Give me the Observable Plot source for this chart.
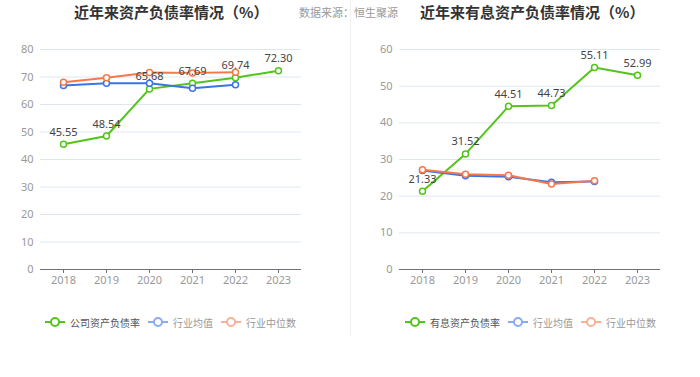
<!DOCTYPE html>
<html>
<head>
<meta charset="utf-8">
<script src="https://cdn.jsdelivr.net/npm/d3@7"></script>
<script src="https://cdn.jsdelivr.net/npm/@observablehq/plot@0.6"></script>
<style>
  html, body { margin: 0; padding: 0; background: #fff; }
  body { width: 700px; height: 377px; position: relative; overflow: hidden;
         font-family: "Noto Sans CJK SC", "Noto Sans", sans-serif; }
  .abs { position: absolute; }
  .title { font-size: 15px; font-weight: bold; color: #333; white-space: nowrap; top: 2px; line-height: 20px; }
  .source { font-size: 11px; color: #999; top: 4px; line-height: 16px; white-space: nowrap; }
  .divider { left: 350px; top: 0; width: 1px; height: 336px; background: #f0f0f0; }
  .legend { top: 312px; height: 20px; display: flex; align-items: center; font-size: 10px; white-space: nowrap; }
  .legend .item { display: flex; align-items: center; margin-right: 8px; }
  .legend svg { margin-right: 5px; }
</style>
</head>
<body>
<div id="root"></div>
<script>
const years = ["2018", "2019", "2020", "2021", "2022", "2023"];
const avgYears = ["2018", "2019", "2020", "2021", "2022"];

const leftTitle = "近年来资产负债率情况（%）";
const rightTitle = "近年来有息资产负债率情况（%）";
const sourceText = "数据来源：恒生聚源";

const leftNames = ["公司资产负债率", "行业均值", "行业中位数"];
const rightNames = ["有息资产负债率", "行业均值", "行业中位数"];

const leftCompany = [45.55, 48.54, 65.68, 67.69, 69.74, 72.30];
const leftAvg = [66.9, 67.7, 67.7, 65.9, 67.2];
const leftMedian = [68.1, 69.7, 71.6, 71.5, 71.7];

const rightCompany = [21.33, 31.52, 44.51, 44.73, 55.11, 52.99];
const rightAvg = [27.0, 25.6, 25.3, 23.8, 24.0];
const rightMedian = [27.2, 26.0, 25.7, 23.3, 24.2];

const leftTicks = [0, 10, 20, 30, 40, 50, 60, 70, 80];
const rightTicks = [0, 10, 20, 30, 40, 50, 60];

const colors = ["#52c41a", "#3a74ea", "#f5784a"];
const legendColors = ["#52c41a", "#8aaaf2", "#f8b296"];

const root = document.body;

function rows(xs, vs) { return vs.map((v, i) => ({year: xs[i], value: v})); }

function makeChart(company, avg, median, ticks, mL, mR) {
  const series = [rows(years, company), rows(avgYears, avg), rows(avgYears, median)];
  const marks = [
    Plot.gridY(ticks, {stroke: "#e0e6f1", strokeOpacity: 1}),
    Plot.axisY(ticks, {tickSize: 0, tickPadding: 7, fill: "#999", fontSize: 11}),
    Plot.ruleY([0], {stroke: "#6e7079"}),
    Plot.axisX({tickSize: 4, stroke: "#6e7079", fill: "#999", fontSize: 11, tickPadding: 3})
  ];
  series.forEach((d, i) => {
    marks.push(Plot.line(d, {x: "year", y: "value", stroke: colors[i], strokeWidth: 2}));
  });
  series.forEach((d, i) => {
    marks.push(Plot.dot(d, {x: "year", y: "value", r: 3, stroke: colors[i], strokeWidth: 1.5, fill: "#fff"}));
  });
  marks.push(Plot.text(series[0], {x: "year", y: "value", text: d => d.value.toFixed(2), dy: -12, fill: "#444", fontSize: 11}));
  return Plot.plot({
    width: 350, height: 300,
    marginTop: 49, marginBottom: 31, marginLeft: mL, marginRight: mR,
    style: {fontFamily: '"Noto Sans", "Noto Sans CJK SC", sans-serif', background: "transparent", overflow: "visible"},
    x: {type: "point", domain: years, padding: 0.5, label: null, axis: null},
    y: {domain: [ticks[0], ticks[ticks.length - 1]], label: null, axis: null},
    marks
  });
}

function place(el, left, top) {
  el.style.position = "absolute";
  el.style.left = left + "px";
  el.style.top = top + "px";
  root.appendChild(el);
}

place(makeChart(leftCompany, leftAvg, leftMedian, leftTicks, 40, 49), 0, 0);
place(makeChart(rightCompany, rightAvg, rightMedian, rightTicks, 49, 40), 350, 0);

function addDiv(cls, text, left) {
  const d = document.createElement("div");
  d.className = "abs " + cls;
  d.textContent = text;
  d.style.left = left + "px";
  root.appendChild(d);
  return d;
}
addDiv("title", leftTitle, 74);
addDiv("title", rightTitle, 420);
addDiv("source", sourceText, 299);
const div = document.createElement("div");
div.className = "abs divider";
root.appendChild(div);

function legend(names, left) {
  const lg = document.createElement("div");
  lg.className = "abs legend";
  lg.style.left = left + "px";
  names.forEach((n, i) => {
    const it = document.createElement("div");
    it.className = "item";
    const c = legendColors[i];
    it.innerHTML = `<svg width="20" height="12"><line x1="0" y1="6" x2="20" y2="6" stroke="${c}" stroke-width="2"/><circle cx="10" cy="6" r="4" fill="#fff" stroke="${c}" stroke-width="2"/></svg>`;
    const s = document.createElement("span");
    s.textContent = n;
    s.style.color = i === 0 ? "#555" : "#999";
    it.appendChild(s);
    lg.appendChild(it);
  });
  root.appendChild(lg);
}
legend(leftNames, 45);
legend(rightNames, 405);
</script>
</body>
</html>
